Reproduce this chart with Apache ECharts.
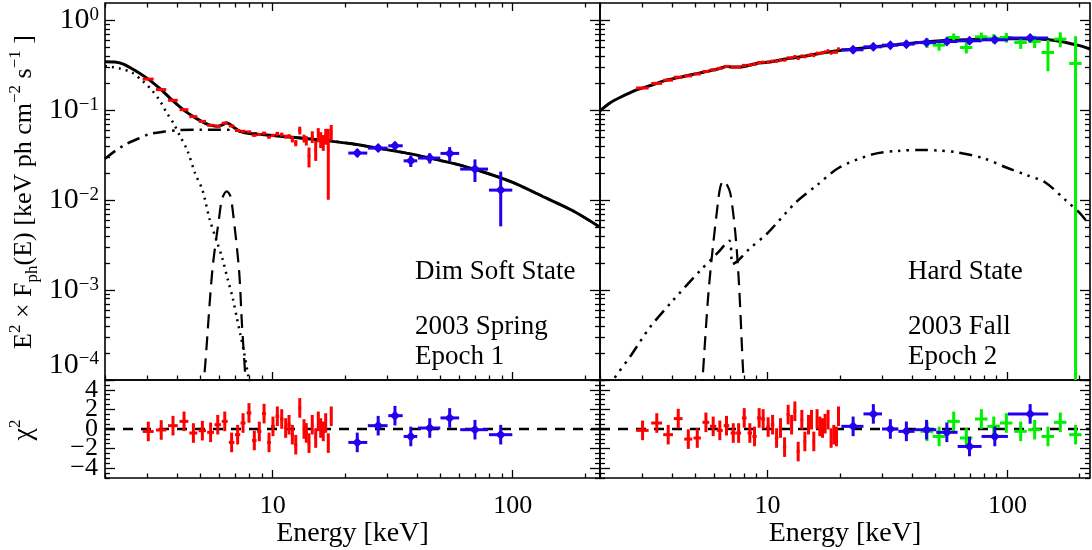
<!DOCTYPE html>
<html><head><meta charset="utf-8">
<script src="https://cdn.jsdelivr.net/npm/echarts@6/dist/echarts.min.js"></script>
<style>html,body{margin:0;padding:0;background:#fff}#c{width:1092px;height:550px}</style>
</head><body><div id="c"></div><script>
// ---------------- DATA ----------------
// tick labels
const xTickValues = [10, 100];
const xTickLabels = ['10', '100'];
const yTickValues = [1e-4, 1e-3, 1e-2, 1e-1, 1];
const yTickExps = ['\u22124', '\u22123', '\u22122', '\u22121', '0'];
const resTickValues = [-4, -2, 0, 2, 4];
const resTickLabels = ['\u22124', '\u22122', '0', '2', '4'];

// ----- Left panel (Dim Soft State) models -----
const leftModelE = [2.0, 2.2, 2.4, 2.7, 3.0, 3.4, 3.8, 4.3, 4.8, 5.4, 5.9, 6.2, 6.4, 6.6, 6.9, 7.3, 8.0, 9.0, 11, 14, 17, 21, 27, 38, 50, 62, 80, 100, 136, 178, 231];
const leftModelV = [0.345, 0.342, 0.322, 0.27, 0.225, 0.172, 0.13, 0.098, 0.081, 0.069, 0.066, 0.069, 0.0725, 0.070, 0.064, 0.058, 0.055, 0.0535, 0.051, 0.048, 0.0455, 0.0425, 0.038, 0.0324, 0.0275, 0.024, 0.0195, 0.0157, 0.0107, 0.0076, 0.0050];
const leftDiskE = [2.0, 2.3, 2.6, 2.9, 3.15, 3.4, 3.6, 3.85, 4.1, 4.4, 4.75, 5.1, 5.45, 5.8, 6.15, 6.5, 6.8, 7.1, 7.35, 7.6, 7.9, 8.1];
const leftDiskV = [0.309, 0.29, 0.26, 0.205, 0.164, 0.125, 0.095, 0.072, 0.052, 0.036, 0.0198, 0.0128, 0.0062, 0.0037, 0.0023, 0.0013, 0.00083, 0.00048, 0.00031, 0.0002, 0.000112, 0.00008];
const leftLineE = [5.05, 5.18, 5.6, 5.98, 6.15, 6.43, 6.65, 6.84, 7.24, 7.44, 7.66, 7.75];
const leftLineV = [0.00007, 0.000107, 0.00164, 0.0064, 0.0103, 0.0125, 0.0112, 0.007, 0.00164, 0.00042, 0.000127, 0.00008];
const leftComptE = [2.0, 2.2, 2.45, 2.75, 3.05, 3.5, 4.1, 5, 6, 6.8, 7.5, 8.5, 9.0, 11, 14, 17, 21, 27, 38, 50, 62, 80, 100, 136, 178, 231];
const leftComptV = [0.0288, 0.035, 0.042, 0.048, 0.054, 0.0575, 0.06, 0.0605, 0.0605, 0.06, 0.0575, 0.055, 0.0535, 0.051, 0.048, 0.0455, 0.0425, 0.038, 0.0324, 0.0275, 0.024, 0.0195, 0.0157, 0.0107, 0.0076, 0.0050];

// ----- Left panel data -----
const leftRedE = [3.03, 3.43, 3.84, 4.27, 4.67, 5.09, 5.51, 5.90, 6.31, 6.74, 7.14, 7.52, 7.96, 8.38, 8.79, 9.20, 9.65, 10.02, 10.45, 10.90, 11.32, 11.69, 12.07, 12.47, 12.96, 13.50, 13.80, 14.16, 14.61, 15.10, 15.48, 15.84, 16.24, 16.62, 17.04, 17.53];
const leftRedV = [0.221, 0.169, 0.1285, 0.101, 0.0846, 0.0749, 0.0677, 0.0663, 0.0716, 0.0666, 0.0593, 0.0582, 0.0573, 0.0524, 0.0535, 0.0555, 0.0501, 0.0523, 0.0546, 0.0534, 0.0508, 0.0513, 0.0475, 0.0431, 0.0595, 0.0485, 0.0459, 0.0307, 0.0506, 0.0363, 0.0534, 0.0474, 0.044, 0.0515, 0.036, 0.057];
const leftRedRelErr = [0.012, 0.012, 0.012, 0.012, 0.012, 0.012, 0.012, 0.012, 0.012, 0.015, 0.02, 0.02, 0.025, 0.025, 0.025, 0.03, 0.03, 0.04, 0.05, 0.05, 0.05, 0.05, 0.08, 0.08, 0.1, 0.1, 0.12, 0.25, 0.15, 0.25, 0.18, 0.2, 0.2, 0.2, 0.72, 0.2];
const leftRedDE = [0.16, 0.17, 0.18, 0.18, 0.18, 0.18, 0.18, 0.18, 0.18, 0.18, 0.18, 0.18, 0.18, 0.18, 0.18, 0.18, 0.18, 0.18, 0.18, 0.18, 0.18, 0.18, 0.18, 0.18, 0.18, 0.18, 0.18, 0.18, 0.18, 0.18, 0.18, 0.18, 0.18, 0.18, 0.18, 0.18];
const leftRedRes = [-0.25, -0.1, 0.34, 0.78, -0.41, -0.17, -0.34, 0.44, 0.78, -1.37, -0.58, 0.61, 1.64, -1.17, -0.25, 1.57, -1.37, 0.27, 1.3, 1.02, 0.1, 0.44, -0.58, -1.6, 2.15, 0, -0.4, -1.44, 0.44, -0.92, 0.78, 0.1, -0.24, 0.61, -1.44, 1.3];

const leftBlueE = [22.5, 27.5, 32.3, 37.6, 45.1, 54.6, 69.6, 89.1];
const leftBlueLo = [20.65, 24.9, 30.3, 35.1, 40.3, 50.0, 60.4, 79.6];
const leftBlueHi = [24.77, 30.1, 34.8, 40.0, 49.9, 59.8, 78.9, 99.6];
const leftBlueV = [0.0333, 0.0378, 0.0401, 0.0273, 0.0293, 0.033, 0.0221, 0.0129];
const leftBlueErr = [0.0033, 0.003, 0.0042, 0.004, 0.0038, 0.0058, 0.0062, 0.0078];
const leftBlueRes = [-1.37, 0.34, 1.36, -0.76, 0.1, 1.13, -0.07, -0.58];

// ----- Right panel (Hard State) models -----
const rightModelE = [2.0, 2.2, 2.42, 2.84, 3.3, 3.67, 4.2, 4.74, 5.4, 6.12, 6.5, 6.74, 7.1, 7.65, 9.0, 10, 12.4, 14.4, 17.1, 20, 25, 32.7, 42, 52.6, 68, 84.5, 105, 136, 160, 175, 200, 221];
const rightModelV = [0.098, 0.12, 0.138, 0.168, 0.19, 0.21, 0.228, 0.245, 0.264, 0.284, 0.298, 0.305, 0.302, 0.302, 0.33, 0.34, 0.376, 0.4, 0.435, 0.46, 0.49, 0.527, 0.56, 0.589, 0.606, 0.615, 0.62, 0.615, 0.59, 0.564, 0.52, 0.476];
const rightReflE = [2.1, 2.27, 2.7, 3.23, 4.0, 5.23, 6.2, 6.93, 7.14, 7.5, 8.39, 10, 13.1, 16, 19.9, 27.6, 35, 43.6, 52, 62.2, 80, 98.9, 120, 144, 176, 200, 221];
const rightReflV = [0.00007, 0.0001, 0.00019, 0.000385, 0.00075, 0.00164, 0.0026, 0.00353, 0.00194, 0.0021, 0.00286, 0.0043, 0.0094, 0.0145, 0.023, 0.0324, 0.0352, 0.036, 0.0355, 0.0338, 0.029, 0.023, 0.019, 0.0157, 0.0098, 0.0072, 0.0052];
const rightLineE = [5.3, 5.36, 5.66, 5.93, 6.22, 6.35, 6.53, 6.75, 7.0, 7.34, 7.6, 7.9, 8.0];
const rightLineV = [0.00007, 0.000107, 0.0009, 0.00324, 0.0098, 0.014, 0.0164, 0.015, 0.0117, 0.0042, 0.00115, 0.000127, 0.00008];

// ----- Right panel data -----
const rightRedE = [3.01, 3.45, 3.85, 4.24, 4.67, 5.09, 5.53, 5.93, 6.32, 6.74, 7.19, 7.57, 7.99, 8.43, 8.82, 9.22, 9.58, 10.05, 10.49, 10.90, 11.32, 11.77, 12.18, 12.59, 12.99, 13.41, 13.89, 14.30, 14.81, 15.24, 15.58, 16.08, 16.51, 16.94, 17.37, 17.87, 18.40, 18.88, 19.38, 19.75];
const rightRedV = [0.176, 0.198, 0.215, 0.232, 0.240, 0.252, 0.269, 0.280, 0.291, 0.306, 0.300, 0.300, 0.314, 0.316, 0.322, 0.338, 0.341, 0.342, 0.350, 0.349, 0.360, 0.358, 0.381, 0.382, 0.394, 0.374, 0.400, 0.391, 0.409, 0.418, 0.402, 0.430, 0.429, 0.433, 0.443, 0.457, 0.429, 0.438, 0.439, 0.480];
const rightRedRelErr = [0.01, 0.01, 0.01, 0.01, 0.01, 0.01, 0.01, 0.01, 0.01, 0.01, 0.01, 0.01, 0.015, 0.015, 0.015, 0.015, 0.015, 0.015, 0.015, 0.015, 0.015, 0.015, 0.02, 0.02, 0.02, 0.02, 0.02, 0.02, 0.02, 0.02, 0.02, 0.02, 0.03, 0.03, 0.03, 0.03, 0.03, 0.03, 0.03, 0.03];
const rightRedDE = [0.18, 0.18, 0.18, 0.18, 0.18, 0.18, 0.18, 0.18, 0.18, 0.18, 0.18, 0.18, 0.18, 0.18, 0.18, 0.18, 0.18, 0.18, 0.18, 0.18, 0.18, 0.18, 0.18, 0.18, 0.18, 0.18, 0.18, 0.18, 0.18, 0.18, 0.18, 0.18, 0.18, 0.18, 0.18, 0.18, 0.18, 0.18, 0.18, 0.18];
const rightRedRes = [-0.14, 0.61, -0.58, 1.06, -1.03, -0.92, 0.68, 0.27, -0.14, 0.34, -0.41, -0.41, 1.13, -0.41, -0.76, 1.13, 1.02, 0.2, 0.44, -0.92, 0.1, -1.85, 1.47, 0.44, 1.81, -2.3, 0.95, -1.27, 0.44, 0.95, -1.27, 1.02, 0.27, 0.1, 0.54, 0.95, -0.92, -0.58, -0.76, 1.3];

const rightBlueE = [22.73, 27.6, 32.5, 37.9, 46.0, 55.9, 69.5, 88.6, 124.4];
const rightBlueLo = [20.3, 25.1, 30.0, 35.1, 41.0, 50.5, 62.0, 78.0, 100.5];
const rightBlueHi = [25.1, 30.0, 35.1, 41.0, 50.5, 62.0, 78.0, 100.5, 148];
const rightBlueV = [0.468, 0.505, 0.527, 0.541, 0.564, 0.578, 0.589, 0.604, 0.631];
const rightBlueErr = [0.008, 0.009, 0.01, 0.011, 0.012, 0.013, 0.014, 0.016, 0.02];
const rightBlueRes = [0.27, 1.54, 0, -0.24, -0.07, -0.34, -1.78, -0.76, 1.54];

const rightGreenE = [46.2, 51.9, 59.7, 67.4, 77.9, 87.7, 99.0, 113.6, 129.9, 147.6, 166.2, 192.4];
const rightGreenDE = [2.8, 3.1, 3.6, 4.0, 4.7, 5.3, 5.9, 6.8, 7.8, 8.9, 10, 11.5];
const rightGreenV = [0.56, 0.527, 0.641, 0.496, 0.652, 0.625, 0.641, 0.564, 0.58, 0.437, 0.615, 0.33];
const rightGreenErr = [0.07, 0.07, 0.07, 0.07, 0.075, 0.075, 0.08, 0.085, 0.09, 0.167, 0.116, 0.33];
const rightGreenRes = [-0.24, -0.76, 0.78, -0.92, 1.02, 0.27, 0.61, -0.24, -0.07, -0.76, 0.68, -0.58];

// ---------------- BUILD ----------------
const LOG = Math.log10;
const FONT = 'Liberation Serif';
const RED = '#ff0000', BLUE = '#2200ee', GREEN = '#00f000';

const chart = echarts.init(document.getElementById('c'), null, {renderer: 'canvas'});

const grids = [], xAxes = [], yAxes = [], series = [];
function addGrid(r, border) {
  grids.push(Object.assign({show: border, borderColor: '#000', borderWidth: 1.6, backgroundColor: 'transparent', containLabel: false}, r));
  return grids.length - 1;
}
function tickStyle(len, vals) {
  return {show: true, inside: true, length: len, customValues: vals, lineStyle: {color: '#000', width: 1.3}};
}
function addX(g, pos, min, max, vals, len, extra) {
  xAxes.push(Object.assign({type: 'value', gridIndex: g, position: pos, min: min, max: max,
    axisLine: {show: false, onZero: false}, splitLine: {show: false}, axisTick: tickStyle(len, vals), axisLabel: {show: false}}, extra || {}));
  return xAxes.length - 1;
}
function addY(g, pos, min, max, vals, len, extra) {
  yAxes.push(Object.assign({type: 'value', gridIndex: g, position: pos, min: min, max: max,
    axisLine: {show: false, onZero: false}, splitLine: {show: false}, axisTick: tickStyle(len, vals), axisLabel: {show: false}}, extra || {}));
  return yAxes.length - 1;
}

const xMajor = xTickValues.map(LOG);
const xMinor = [];
[1, 10, 100].forEach(d => { for (let k = 1; k <= 9; k++) { const v = k * d; if (v >= 2 && xTickValues.indexOf(v) < 0) xMinor.push(LOG(v)); } });
const yMajor = yTickValues.map(LOG);
const yMinor = [];
yTickValues.forEach(d => { for (let k = 2; k <= 9; k++) yMinor.push(LOG(k * d)); });
const resMinor = [];
for (let v = -5; v <= 5; v += 0.5) if (resTickValues.indexOf(v) < 0) resMinor.push(v);

const YMIN = -4, YMAX = LOG(1.55);

function resLabel(vals) {
  return {axisLabel: {show: true, customValues: vals, margin: 7, interval: 0, fontFamily: FONT, fontSize: 26,
    color: '#000', hideOverlap: false, showMinLabel: true, showMaxLabel: true,
    formatter: v => resTickLabels[resTickValues.indexOf(v)]}};
}
function powLabel(vals, vAlign) {
  return {axisLabel: {show: true, customValues: vals, margin: 6, interval: 0, hideOverlap: false, showMinLabel: true, showMaxLabel: true,
    verticalAlign: vAlign,
    formatter: v => { const i = yMajor.findIndex(m => Math.abs(m - v) < 1e-6); return '{b|10}{s|' + yTickExps[i] + '}'; },
    rich: {b: {fontFamily: FONT, fontSize: 30, color: '#000', lineHeight: 30},
           s: {fontFamily: FONT, fontSize: 19, color: '#000', lineHeight: 14, verticalAlign: 'top'}}}};
}

function panel(rect, xmax, isTop, isLeft) {
  const g = addGrid(rect, true);
  const gm = addGrid(rect, false);
  const xmin = LOG(2);
  let xi, yi;
  if (isTop) {
    xi = addX(g, 'bottom', xmin, xmax, xMajor, 8);
    addX(g, 'top', xmin, xmax, xMajor, 8);
    addX(gm, 'bottom', xmin, xmax, xMinor, 4.5);
    addX(gm, 'top', xmin, xmax, xMinor, 4.5);
    yi = addY(g, 'left', YMIN, YMAX, yMajor, 10, isLeft ? powLabel(yMajor.slice(1), 'middle') : {});
    addY(g, 'right', YMIN, YMAX, yMajor, 10);
    // lowest decade label sits just above its tick, as in the reference
    addY(gm, 'left', YMIN, YMAX, yMinor, 5, isLeft ? powLabel(yMajor.slice(0, 1), 'bottom') : {});
    addY(gm, 'right', YMIN, YMAX, yMinor, 5);
  } else {
    xi = addX(g, 'bottom', xmin, xmax, xMajor, 8, {
      axisLabel: {show: true, customValues: xMajor, margin: 15, interval: 0, fontFamily: FONT, fontSize: 26, color: '#000', hideOverlap: false,
        formatter: v => xTickLabels[xMajor.findIndex(m => Math.abs(m - v) < 1e-6)]},
      name: 'Energy [keV]', nameLocation: 'middle', nameGap: 40,
      nameTextStyle: {fontFamily: FONT, fontSize: 28, color: '#000'}});
    addX(gm, 'bottom', xmin, xmax, xMinor, 4.5);
    // labels split over two coincident axes so that neighbouring labels never collide
    yi = addY(g, 'left', -5, 5, resTickValues, 10, isLeft ? resLabel([resTickValues[0], resTickValues[2], resTickValues[4]]) : {});
    addY(g, 'right', -5, 5, resTickValues, 10);
    addY(gm, 'left', -5, 5, resMinor, 5, isLeft ? resLabel([resTickValues[1], resTickValues[3]]) : {});
    addY(gm, 'right', -5, 5, resMinor, 5);
  }
  return {xi, yi};
}

const LT = panel({left: 105, top: 3, width: 495, height: 377}, LOG(231), true, true);
const LB = panel({left: 105, top: 380, width: 495, height: 98}, LOG(231), false, true);
const RT = panel({left: 600, top: 3, width: 490, height: 377}, LOG(221), true, false);
const RB = panel({left: 600, top: 380, width: 490, height: 98}, LOG(221), false, false);

function curve(ax, E, V, type, width, smooth) {
  series.push({type: 'line', xAxisIndex: ax.xi, yAxisIndex: ax.yi, showSymbol: false, symbol: 'none', smooth: smooth,
    clip: true, z: 2, silent: true,
    data: E.map((e, i) => [LOG(e), LOG(V[i])]),
    lineStyle: {color: '#000', width: width, type: type, cap: 'butt'}});
}
function errRender(color, lw, diamond) {
  return function (params, api) {
    const cs = params.coordSys;
    const x0 = cs.x, x1 = cs.x + cs.width, y0 = cs.y, y1 = cs.y + cs.height;
    const cl = (v, a, b) => Math.max(a, Math.min(b, v));
    const p = api.coord([api.value(0), api.value(1)]);
    const a = api.coord([api.value(2), api.value(1)]);
    const b = api.coord([api.value(3), api.value(1)]);
    const c = api.coord([api.value(0), api.value(4)]);
    const d = api.coord([api.value(0), api.value(5)]);
    const st = {stroke: color, lineWidth: lw};
    const ch = [
      {type: 'line', shape: {x1: cl(a[0], x0, x1), y1: p[1], x2: cl(b[0], x0, x1), y2: p[1]}, style: st},
      {type: 'line', shape: {x1: p[0], y1: cl(c[1], y0, y1), x2: p[0], y2: cl(d[1], y0, y1)}, style: st}
    ];
    if (diamond) ch.push({type: 'polygon', shape: {points: [[p[0], p[1] - 5], [p[0] + 5, p[1]], [p[0], p[1] + 5], [p[0] - 5, p[1]]]}, style: {fill: color}});
    return {type: 'group', children: ch};
  };
}
function points(ax, items, color, diamond) {
  series.push({type: 'custom', xAxisIndex: ax.xi, yAxisIndex: ax.yi, z: 4, silent: true,
    renderItem: errRender(color, 3, diamond), encode: {x: 0, y: 1}, data: items});
}
function specItems(E, V, lo, hi, err) {
  return E.map((e, i) => { const l = V[i] - err[i]; return [LOG(e), LOG(V[i]), LOG(lo[i]), LOG(hi[i]), l > 0 ? LOG(l) : -99, LOG(V[i] + err[i])]; });
}
function resItems(E, R, lo, hi) {
  return E.map((e, i) => [LOG(e), R[i], LOG(lo[i]), LOG(hi[i]), R[i] - 1, R[i] + 1]);
}
function zeroLine(ax, xmaxE) {
  series.push({type: 'line', xAxisIndex: ax.xi, yAxisIndex: ax.yi, showSymbol: false, symbol: 'none', z: 1, silent: true,
    data: [[LOG(2), 0], [LOG(xmaxE), 0]], lineStyle: {color: '#000', width: 2.5, type: [10, 8]}});
}

// left curves
curve(LT, leftModelE, leftModelV, 'solid', 3, 0.3);
curve(LT, leftDiskE, leftDiskV, [2, 5], 2.5, 0.3);
curve(LT, leftLineE, leftLineV, [14, 8], 2.2, 0.3);
curve(LT, leftComptE, leftComptV, [13, 6, 2.5, 6], 2.5, 0.3);
// left data
const lrLo = leftRedE.map((e, i) => e - leftRedDE[i]);
const lrHi = leftRedE.map((e, i) => e + leftRedDE[i]);
points(LT, specItems(leftRedE, leftRedV, lrLo, lrHi, leftRedV.map((v, i) => v * leftRedRelErr[i])), RED, false);
points(LT, specItems(leftBlueE, leftBlueV, leftBlueLo, leftBlueHi, leftBlueErr), BLUE, true);
zeroLine(LB, 231);
points(LB, resItems(leftRedE, leftRedRes, lrLo, lrHi), RED, false);
points(LB, resItems(leftBlueE, leftBlueRes, leftBlueLo, leftBlueHi), BLUE, true);

// right curves
curve(RT, rightModelE, rightModelV, 'solid', 3, 0.3);
curve(RT, rightReflE, rightReflV, [13, 6, 2.5, 6, 2.5, 6, 2.5, 6], 2.5, 0.3);
curve(RT, rightLineE, rightLineV, [14, 8], 2.2, 0.3);
// right data
const rrLo = rightRedE.map((e, i) => e - rightRedDE[i]);
const rrHi = rightRedE.map((e, i) => e + rightRedDE[i]);
const rgLo = rightGreenE.map((e, i) => e - rightGreenDE[i]);
const rgHi = rightGreenE.map((e, i) => e + rightGreenDE[i]);
points(RT, specItems(rightRedE, rightRedV, rrLo, rrHi, rightRedV.map((v, i) => v * rightRedRelErr[i])), RED, false);
points(RT, specItems(rightGreenE, rightGreenV, rgLo, rgHi, rightGreenErr), GREEN, false);
points(RT, specItems(rightBlueE, rightBlueV, rightBlueLo, rightBlueHi, rightBlueErr), BLUE, true);
zeroLine(RB, 221);
points(RB, resItems(rightRedE, rightRedRes, rrLo, rrHi), RED, false);
points(RB, resItems(rightGreenE, rightGreenRes, rgLo, rgHi), GREEN, false);
points(RB, resItems(rightBlueE, rightBlueRes, rightBlueLo, rightBlueHi), BLUE, true);

// texts
function txt(x, y, s) {
  return {type: 'text', x: x, y: y, silent: true, z: 10,
    style: {text: s, fontFamily: FONT, fontSize: 27, fill: '#000', align: 'left', verticalAlign: 'middle', textAlign: 'left', textVerticalAlign: 'middle'}};
}
const richTitle = {
  sup: {fontFamily: FONT, fontSize: 17, lineHeight: 14, verticalAlign: 'top', fill: '#000', color: '#000'},
  sub: {fontFamily: FONT, fontSize: 17, lineHeight: 14, verticalAlign: 'bottom', fill: '#000', color: '#000'}
};
const graphic = [
  txt(415, 272, 'Dim Soft State'), txt(415, 327, '2003 Spring'), txt(415, 357, 'Epoch 1'),
  txt(908, 272, 'Hard State'), txt(908, 327, '2003 Fall'), txt(908, 357, 'Epoch 2'),
  {type: 'text', x: 24, y: 192, rotation: Math.PI / 2, silent: true, z: 10,
   style: {text: 'E{sup|2} \u00d7 F{sub|ph}(E) [keV ph cm{sup|\u22122} s{sup|\u22121} ]', rich: richTitle,
     fontFamily: FONT, fontSize: 26, lineHeight: 34, fill: '#000', align: 'center', verticalAlign: 'middle', textAlign: 'center', textVerticalAlign: 'middle'}},
  {type: 'text', x: 24, y: 430, rotation: Math.PI / 2, silent: true, z: 10,
   style: {text: '\u03c7{sup|2}', rich: richTitle, fontFamily: FONT, fontSize: 28, lineHeight: 34, fill: '#000',
     align: 'center', verticalAlign: 'middle', textAlign: 'center', textVerticalAlign: 'middle'}}
];

chart.setOption({
  animation: false,
  backgroundColor: '#fff',
  grid: grids, xAxis: xAxes, yAxis: yAxes, series: series, graphic: graphic
});
</script></body></html>
